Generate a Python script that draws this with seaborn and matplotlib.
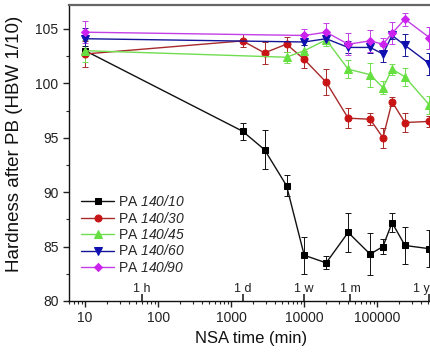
import numpy as np
import pandas as pd
import matplotlib
matplotlib.use("Agg")
import matplotlib.pyplot as plt
import matplotlib.ticker as mticker
import seaborn as sns

sns.set_theme(style="ticks")
plt.rcParams['font.family'] = ['Liberation Sans', 'DejaVu Sans']
plt.rcParams['mathtext.fontset'] = 'custom'
plt.rcParams['mathtext.rm'] = 'Liberation Sans:italic'
plt.rcParams['mathtext.it'] = 'Liberation Sans:italic'

# ---- data (NSA time in minutes) ----
t_10 = [10, 1440, 2880, 5760, 10080, 20160, 40320, 80640, 120960, 161280, 241920, 525600]
h_10 = [103.0, 95.6, 93.9, 90.6, 84.2, 83.5, 86.3, 84.3, 85.0, 87.2, 85.1, 84.8]
e_10 = [0.4, 0.8, 1.8, 1.0, 1.7, 0.6, 1.8, 1.95, 0.7, 0.9, 1.7, 1.7]

t_30 = [10, 1440, 2880, 5760, 10080, 20160, 40320, 80640, 120960, 161280, 241920, 525600]
h_30 = [102.7, 103.9, 102.8, 103.6, 102.2, 100.1, 96.8, 96.7, 95.0, 98.3, 96.4, 96.5]
e_30 = [1.2, 0.6, 1.0, 0.7, 0.8, 1.2, 0.9, 0.55, 0.9, 0.4, 0.85, 0.5]

t_45 = [10, 5760, 10080, 20160, 40320, 80640, 120960, 161280, 241920, 525600]
h_45 = [103.0, 102.4, 103.0, 104.0, 101.3, 100.8, 99.6, 101.3, 100.6, 98.0]
e_45 = [1.0, 0.5, 0.5, 0.6, 0.85, 1.1, 0.6, 0.5, 0.85, 0.8]

t_60 = [10, 10080, 20160, 40320, 80640, 120960, 161280, 241920, 525600]
h_60 = [104.1, 103.8, 104.1, 103.3, 103.3, 102.7, 104.4, 103.5, 101.8]
e_60 = [1.0, 0.3, 0.5, 0.55, 0.5, 0.7, 0.3, 1.0, 1.0]

t_90 = [10, 10080, 20160, 40320, 80640, 120960, 161280, 241920, 525600]
h_90 = [104.7, 104.4, 104.7, 103.6, 103.9, 103.6, 104.6, 105.9, 104.2]
e_90 = [1.0, 0.55, 0.8, 1.0, 1.0, 0.6, 1.0, 0.6, 1.0]

series_names = ["140/10", "140/30", "140/45", "140/60", "140/90"]
series_t = [t_10, t_30, t_45, t_60, t_90]
series_h = [h_10, h_30, h_45, h_60, h_90]
series_e = [e_10, e_30, e_45, e_60, e_90]

time_marks = [60, 1440, 10080, 43200, 525600]
time_labels = ["1 h", "1 d", "1 w", "1 m", "1 y"]

x_ticks = [10, 100, 1000, 10000, 100000]
y_ticks = [80, 85, 90, 95, 100, 105]

# ---- styles ----
line_colors = ["#111111", "#a82a2a", "#70dd50", "#15159a", "#c43ee8"]
marker_colors = ["#000000", "#c81414", "#66e040", "#1010b0", "#cc22f0"]
markers = ["s", "o", "^", "v", "D"]
msizes = [4.5, 5, 5.5, 5.5, 4.5]

fig = plt.figure(figsize=(4.31, 3.57), dpi=100)
ax = fig.add_axes([0.160, 0.157, 0.845, 0.829])

for name, t, h, e, lc, mc, mk, ms in zip(series_names, series_t, series_h, series_e,
                                         line_colors, marker_colors, markers, msizes):
    df = pd.DataFrame({"t": t, "h": h})
    ax.errorbar(t, h, yerr=e, fmt="none", ecolor=lc, elinewidth=0.7,
                capsize=2.5, capthick=0.7, zorder=2)
    sns.lineplot(data=df, x="t", y="h", ax=ax, color=lc, lw=1.0,
                 marker=mk, markersize=ms, markerfacecolor=mc,
                 markeredgecolor=mc, label=rf"PA ${name}$", zorder=3)

ax.set_xscale("log")
ax.set_xlim(6.0, 590000)
ax.set_ylim(80, 107.2)
ax.set_xticks(x_ticks)
ax.xaxis.set_major_formatter(mticker.FixedFormatter([str(v) for v in x_ticks]))
ax.xaxis.set_minor_locator(mticker.LogLocator(base=10, subs=np.arange(2, 10), numticks=20))
ax.xaxis.set_minor_formatter(mticker.NullFormatter())
ax.set_yticks(y_ticks)
ax.yaxis.set_minor_locator(mticker.MultipleLocator(2.5))

ax.tick_params(axis="both", which="major", direction="out", length=4, width=1,
               labelsize=10, colors="#222222")
ax.tick_params(axis="both", which="minor", direction="out", length=2.5, width=0.8)

for s in ["left", "bottom"]:
    ax.spines[s].set_color("#111111")
    ax.spines[s].set_linewidth(1.0)
ax.spines["top"].set_color("#666666")
ax.spines["top"].set_linewidth(1.6)
ax.spines["right"].set_visible(False)

sec = ax.secondary_xaxis("bottom")
sec.set_xticks(time_marks)
sec.set_xticklabels(time_labels)
sec.tick_params(direction="in", length=5, width=1.2, pad=-13, labelsize=9, colors="#222222")
sec.spines["bottom"].set_visible(False)
sec.xaxis.set_minor_locator(mticker.NullLocator())
sec_labels = sec.get_xticklabels()
sec_labels[-1].set_horizontalalignment("right")

ax.set_xlabel("NSA time (min)", fontsize=12, labelpad=4, color="#111111")
ax.set_ylabel("Hardness after PB (HBW 1/10)", fontsize=13.5, color="#111111")
ax.yaxis.set_label_coords(-0.125, 0.53)

leg = ax.legend(loc="lower left", bbox_to_anchor=(0.01, 0.06), frameon=False,
                fontsize=10, handlelength=2.4, handletextpad=0.3, labelspacing=0.1,
                borderaxespad=0.2)

fig.savefig("out.png", dpi=100)
